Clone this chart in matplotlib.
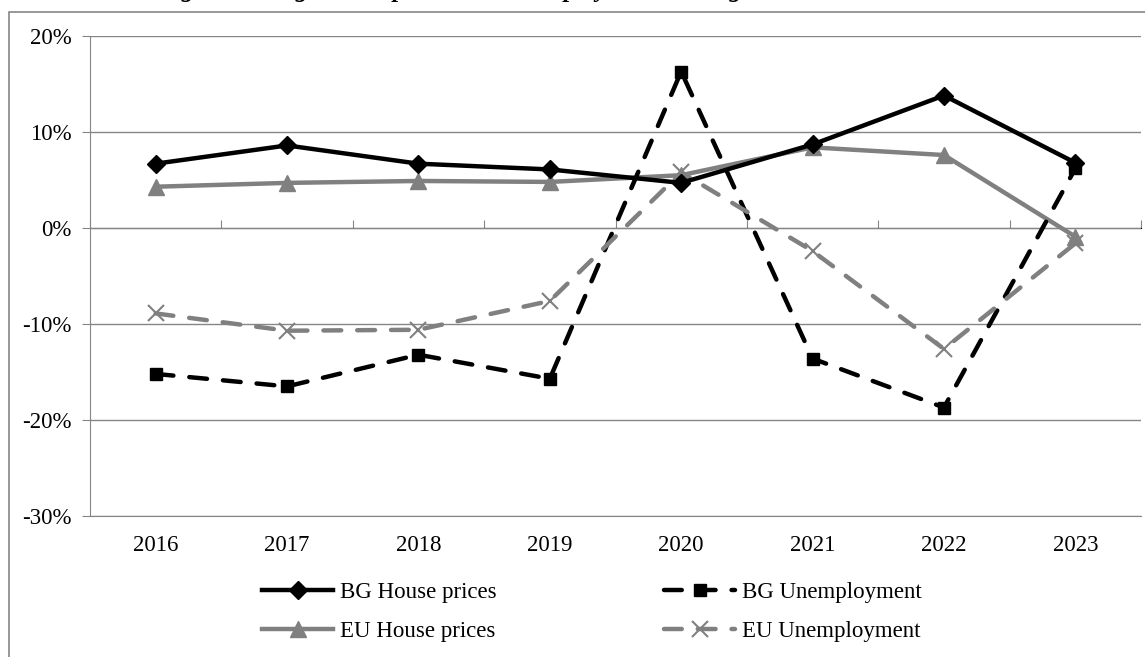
import matplotlib
matplotlib.use('Agg')
import matplotlib.pyplot as plt
from matplotlib.patches import Rectangle
from matplotlib.ticker import FuncFormatter, FixedLocator, NullFormatter

# data (annual change, %)
years = ['2016', '2017', '2018', '2019', '2020', '2021', '2022', '2023']
bg_house = [6.7, 8.6, 6.7, 6.1, 4.7, 8.7, 13.8, 6.8]
bg_unemp = [-15.2, -16.5, -13.2, -15.7, 16.3, -13.6, -18.7, 6.2]
eu_house = [4.3, 4.7, 4.9, 4.8, 5.5, 8.4, 7.6, -0.9]
eu_unemp = [-8.9, -10.7, -10.6, -7.6, 5.8, -2.4, -12.6, -1.6]
title = 'Change in average house prices and unemployment in Bulgaria and EU'

plt.rcParams['font.family'] = ['Liberation Serif', 'DejaVu Serif']
plt.rcParams['font.size'] = 16.5

W, H = 1145, 657
fig = plt.figure(figsize=(W / 100, H / 100), dpi=100)
ax = fig.add_axes([90 / W, 1 - 516 / H, (1141 - 90) / W, (516 - 36) / H])

grid_c = '#868686'
grey = '#808080'
dash = (0, (4, 3.6))
x = list(range(len(years)))

ax.plot(x, bg_house, color='black', lw=3.2, marker='D', ms=9, label='BG House prices', zorder=4)
ax.plot(x, eu_house, color=grey, lw=3.2, marker='^', ms=11, label='EU House prices', zorder=3)
ax.plot(x, bg_unemp, color='black', lw=3.2, ls=dash, dash_capstyle='round', marker='s', ms=9,
        label='BG Unemployment', zorder=3)
ax.plot(x, eu_unemp, color=grey, lw=3.2, ls=dash, dash_capstyle='round', marker='x', ms=11, mew=1.5,
        label='EU Unemployment', zorder=3)

ax.set_xlim(-0.5, len(years) - 0.5)
ax.set_ylim(-30, 20)
ax.set_yticks([-30, -20, -10, 0, 10, 20])
ax.yaxis.set_major_formatter(FuncFormatter(lambda v, p: f'{v:.0f}%'))
ax.yaxis.grid(True, color=grid_c, lw=1)
ax.set_axisbelow(True)

ax.set_xticks(x)
ax.set_xticklabels(years)
ax.tick_params(axis='x', length=0, pad=14)
ax.tick_params(axis='y', length=6, color=grid_c, pad=7)

for s in ['top', 'right']:
    ax.spines[s].set_visible(False)
ax.spines['left'].set_color(grid_c)
ax.spines['bottom'].set_color(grid_c)

# 0% category axis with ticks between categories
sec = ax.secondary_xaxis(30 / 50)
sec.spines['bottom'].set_color(grid_c)
sec.xaxis.set_major_locator(FixedLocator([i - 0.5 for i in range(len(years) + 1)]))
sec.xaxis.set_major_formatter(NullFormatter())
sec.tick_params(axis='x', length=6, color=grid_c, labelbottom=False, labeltop=False)

h, l = ax.get_legend_handles_labels()
fig.legend(h, l, ncol=2, loc='center', bbox_to_anchor=(592 / W, 1 - 612 / H),
           frameon=False, handlelength=3.1, handletextpad=0.3, columnspacing=7.3,
           labelspacing=0.8, fontsize=16.5)

# outer frame (cut off on right and bottom)
fig.patches.append(Rectangle((9 / W, -0.1), 1.2, 1.1 - 12 / H, transform=fig.transFigure,
                             fill=False, ec=grid_c, lw=1.2))

# title, mostly cut off at the top edge
fig.text(125 / W, 1 + 3 / H, title, ha='left', va='baseline', fontsize=18,
         fontweight='bold', fontstyle='italic')

fig.savefig('out.png', dpi=100)
